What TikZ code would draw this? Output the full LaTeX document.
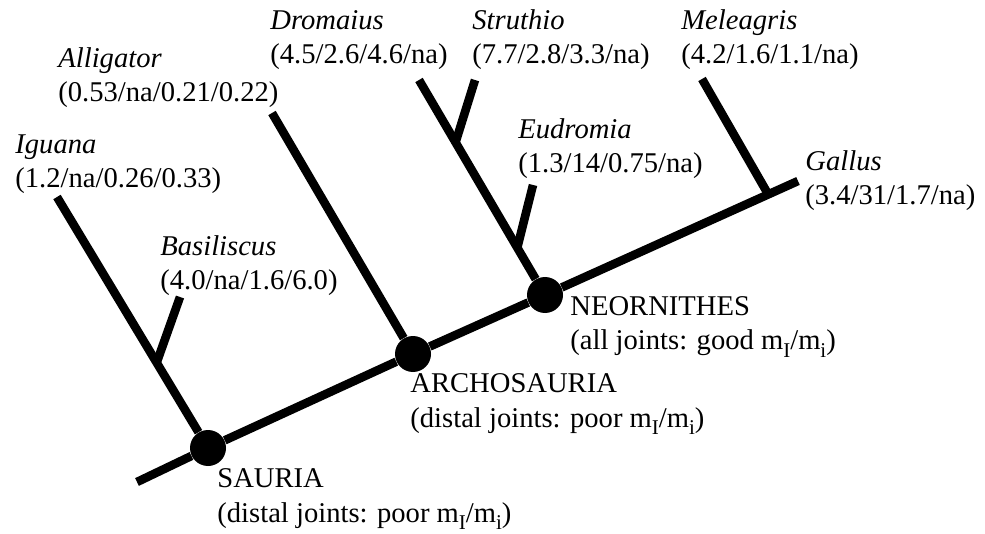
\documentclass[tikz,border=0pt]{standalone}
\usepackage{fontspec}
\setmainfont{Liberation Serif}
\usetikzlibrary{calc,positioning}
\newcommand{\lowsub}[1]{\raisebox{-0.55ex}{\fontsize{10.5}{10.5}\selectfont #1}}

\begin{document}
\begin{tikzpicture}[x=0.5pt,y=-0.5pt,
    branch/.style={
    % the tree lines
    line width=4.3pt,draw=black},
    clade/.style={
    % the filled dots
    circle,fill=black,inner sep=0pt,minimum size=18pt},
    taxon/.style={
    align=left,anchor=base west,inner sep=0pt,
    font=\fontsize{14.3}{17.2}\selectfont}]
    \useasboundingbox (0,0) rectangle (985,534);
    % clades on the main stem
    \coordinate (root) at (137,482);
    \node (sauria) [clade] at (208,448) {};
    \node (archo) [clade] at (413,354) {};
    \node (neorn) [clade] at (545,295) {};
    \coordinate (melj) at (768,194);
    \coordinate (gallus) at (798,181);
    % tips
    \coordinate (iguana) at (57,197);
    \coordinate (basil) at (180,297);
    \coordinate (allig) at (272,113);
    \coordinate (droma) at (419,80);
    \coordinate (struth) at (475,80);
    \coordinate (eudro) at (533,185);
    \coordinate (melea) at (702,79);
    % junctions on side stems
    \coordinate (basj) at ($(sauria)!0.34!(iguana)$);
    \coordinate (struthj) at ($(neorn)!0.71!(droma)$);
    \coordinate (eudroj) at ($(neorn)!0.22!(droma)$);
    \draw[branch] (root) -- (sauria) -- (archo) -- (neorn) -- (gallus);
    \draw[branch] (sauria) -- (iguana);
    \draw[branch] (basj) -- (basil);
    \draw[branch] (archo) -- (allig);
    \draw[branch] (neorn) -- (droma);
    \draw[branch] (struthj) -- (struth);
    \draw[branch] (eudroj) -- (eudro);
    \draw[branch] (melj) -- (melea);
    % labels (anchored at the baseline of their second line)
    \node (iguanalab) [taxon] at (15,188) {\textit{Iguana}\\(1.2/na/0.26/0.33)};
    \node (alliglab) [taxon] at (58,102) {\textit{Alligator}\\(0.53/na/0.21/0.22)};
    \node (dromalab) [taxon] at (270,64) {\textit{Dromaius}\\(4.5/2.6/4.6/na)};
    \node (struthlab) [taxon] at (472,64) {\textit{Struthio}\\(7.7/2.8/3.3/na)};
    \node (melealab) [taxon] at (681,64) {\textit{Meleagris}\\(4.2/1.6/1.1/na)};
    \node (eudrolab) [taxon] at (518,173) {\textit{Eudromia}\\(1.3/14/0.75/na)};
    \node (galluslab) [taxon] at (805,205) {\textit{Gallus}\\(3.4/31/1.7/na)};
    \node (basillab) [taxon] at (160,290) {\textit{Basiliscus}\\(4.0/na/1.6/6.0)};
    \node (neornlab) [taxon] at (570,350) {NEORNITHES\\(all joints: good m\lowsub{I}/m\lowsub{i})};
    \node (archolab) [taxon] at (410,427) {ARCHOSAURIA\\(distal joints: poor m\lowsub{I}/m\lowsub{i})};
    \node (saurialab) [taxon] at (217,522) {SAURIA\\(distal joints: poor m\lowsub{I}/m\lowsub{i})};
\end{tikzpicture}
\end{document}
